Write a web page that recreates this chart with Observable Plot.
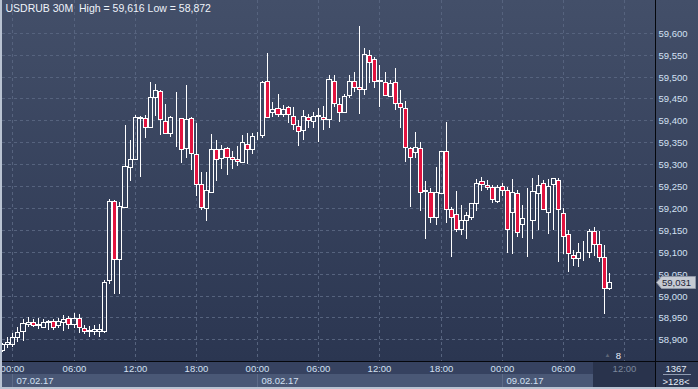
<!DOCTYPE html>
<html><head><meta charset="utf-8">
<script src="https://cdn.jsdelivr.net/npm/d3@7"></script>
<script src="https://cdn.jsdelivr.net/npm/@observablehq/plot@0.6"></script>
<style>
html,body{margin:0;padding:0;background:#2b3651;}
#wrap{position:relative;width:698px;height:389px;overflow:hidden;
 background:linear-gradient(to bottom,#434f69 0px,#2b3651 361px);
 font-family:"Liberation Sans",Arial,sans-serif;}
.bg{position:absolute;}
.fg{position:absolute;z-index:5;}
#wrap svg{position:absolute;left:0;top:0;z-index:2;overflow:visible;}
</style></head><body><div id="wrap">
<div class="bg" style="left:0;top:361px;width:698px;height:13px;background:#364260"></div>
<div class="bg" style="left:0;top:374px;width:698px;height:15px;background:#4a5876"></div>
<div class="bg" style="left:593px;top:362px;width:62px;height:27px;background:#29334c"></div>
<div class="bg" style="left:655px;top:362px;width:43px;height:27px;background:#2e3954"></div>
<div class="fg" style="left:655px;top:0;width:1px;height:389px;background:#05070c"></div>
<div class="fg" style="left:0;top:361px;width:698px;height:1px;background:#05070c"></div>
<div class="fg" style="left:0;top:0;width:2px;height:389px;background:#b9c3d2"></div>
<div class="fg" style="left:0;top:387px;width:698px;height:2px;background:#b9c3d2"></div>
</div>
<script>
// ---- data (USDRUB, 30-minute bars; bar index 0 = 07.02.17 00:00) ----
const firstIndex = -2;
const open = [58.875,58.889,58.889,58.905,58.919,58.935,58.940,58.933,58.928,58.939,
58.942,58.933,58.940,58.949,58.935,58.949,58.926,58.919,58.919,58.919,
58.920,59.035,59.215,59.084,59.203,59.293,59.311,59.406,59.405,59.385,
59.454,59.468,59.399,59.370,59.407,59.405,59.336,59.405,59.322,59.254,
59.199,59.237,59.334,59.313,59.336,59.317,59.311,59.305,59.347,59.334,
59.364,59.366,59.490,59.418,59.427,59.414,59.430,59.411,59.388,59.378,
59.408,59.398,59.411,59.407,59.402,59.490,59.437,59.418,59.458,59.490,
59.477,59.471,59.549,59.539,59.489,59.488,59.455,59.487,59.439,59.427,
59.336,59.327,59.336,59.240,59.236,59.179,59.235,59.330,59.197,59.186,
59.151,59.172,59.180,59.211,59.261,59.252,59.247,59.216,59.249,59.240,
59.190,59.233,59.163,59.174,59.172,59.233,59.258,59.191,59.254,59.264,
59.188,59.140,59.092,59.086,59.099,59.099,59.147,59.117,59.087,59.018];
const close = [58.889,58.893,58.905,58.917,58.937,58.939,58.933,58.935,58.940,58.942,
58.928,58.942,58.946,58.935,58.949,58.928,58.919,58.921,58.924,58.924,
59.032,59.216,59.083,59.204,59.296,59.311,59.407,59.408,59.385,59.453,
59.469,59.402,59.372,59.408,59.408,59.334,59.402,59.325,59.254,59.201,
59.241,59.334,59.311,59.334,59.317,59.311,59.306,59.350,59.334,59.364,
59.365,59.488,59.407,59.425,59.414,59.425,59.414,59.392,59.376,59.411,
59.401,59.411,59.412,59.402,59.494,59.439,59.420,59.456,59.490,59.475,
59.471,59.552,59.534,59.490,59.491,59.458,59.485,59.440,59.430,59.338,
59.316,59.338,59.237,59.238,59.180,59.236,59.330,59.197,59.180,59.151,
59.172,59.184,59.212,59.258,59.254,59.247,59.220,59.247,59.240,59.153,
59.236,59.146,59.176,59.175,59.239,59.252,59.197,59.250,59.268,59.197,
59.136,59.096,59.085,59.099,59.100,59.147,59.117,59.089,59.018,59.031];
const high = [58.892,58.905,58.914,58.928,58.946,58.951,58.946,58.949,58.946,58.944,
58.946,58.949,58.955,58.953,58.960,58.958,58.933,58.930,58.933,58.935,
59.035,59.220,59.218,59.214,59.389,59.355,59.412,59.410,59.412,59.488,
59.483,59.470,59.437,59.410,59.464,59.405,59.481,59.408,59.393,59.283,
59.283,59.369,59.355,59.344,59.340,59.330,59.341,59.366,59.372,59.370,
59.374,59.490,59.553,59.442,59.460,59.435,59.433,59.430,59.401,59.424,
59.414,59.420,59.427,59.433,59.503,59.503,59.450,59.460,59.503,59.511,
59.616,59.565,59.561,59.545,59.526,59.511,59.492,59.519,59.469,59.445,
59.340,59.374,59.351,59.262,59.245,59.294,59.330,59.397,59.203,59.239,
59.207,59.191,59.212,59.265,59.271,59.264,59.252,59.252,59.256,59.248,
59.266,59.241,59.207,59.246,59.269,59.275,59.264,59.266,59.268,59.268,
59.199,59.149,59.104,59.121,59.124,59.152,59.157,59.147,59.115,59.051];
const low = [58.872,58.880,58.882,58.894,58.896,58.928,58.928,58.923,58.926,58.921,
58.921,58.926,58.919,58.924,58.926,58.914,58.912,58.905,58.910,58.905,
58.914,59.026,59.003,59.003,59.201,59.262,59.309,59.270,59.359,59.385,
59.410,59.366,59.370,59.363,59.340,59.302,59.313,59.287,59.227,59.195,
59.171,59.237,59.262,59.289,59.275,59.288,59.296,59.305,59.300,59.323,
59.355,59.359,59.407,59.407,59.407,59.407,59.393,59.378,59.341,59.355,
59.382,59.382,59.351,59.378,59.382,59.431,59.397,59.416,59.450,59.465,
59.414,59.458,59.485,59.473,59.431,59.455,59.454,59.424,59.382,59.305,
59.201,59.313,59.194,59.129,59.165,59.161,59.233,59.165,59.087,59.146,
59.138,59.128,59.172,59.194,59.239,59.242,59.212,59.211,59.227,59.096,
59.094,59.134,59.132,59.089,59.129,59.149,59.195,59.140,59.150,59.077,
59.094,59.054,59.068,59.066,59.079,59.086,59.091,59.077,58.957,59.013];

const symbol = "USDRUB";
const period = "30M";
const yTicks = [58.90,58.95,59.00,59.05,59.10,59.15,59.20,59.25,59.30,59.35,59.40,59.45,59.50,59.55,59.60];
const timeTickIdx = [0,12,24,36,48,60,72,84,96,108,120];
const timeLabels = ["00:00","06:00","12:00","18:00","00:00","06:00","12:00","18:00","00:00","06:00","12:00"];
const dateIdx = [0,48,96];
const dateLabels = ["07.02.17","08.02.17","09.02.17"];
const barCount = "1367";
const scaleLabel = ">128<";
const marker = {idx: 118.8, label: "8"};

// ---- build ----
const bars = open.map((o, k) => ({i: firstIndex + k, o, c: close[k], h: high[k], l: low[k]}));
const up = bars.filter(d => d.c >= d.o);
const down = bars.filter(d => d.c < d.o);
const fmt = v => d3.format(".3f")(v).replace(".", ",");
const hi = d3.max(high), lo = d3.min(low);
const last = bars[bars.length - 1];
const title = `${symbol} ${period}  High = ${fmt(hi)} Low = ${fmt(lo)}`;

const txt = "#d3e0f3";
const grid = "#56637e";
const red = "#e2133f";
const crisp = {shapeRendering: "crispEdges"};

const chart = Plot.plot({
  width: 698, height: 389,
  marginLeft: 2, marginRight: 43, marginTop: 0, marginBottom: 28,
  style: {background: "transparent", fontFamily: "Liberation Sans, Arial, sans-serif", fontSize: "9.5px", overflow: "visible"},
  x: {type: "linear", domain: [-2.02, 126.02], axis: null, round: true},
  y: {domain: [58.8505, 59.6747], axis: null, round: true},
  marks: [
    Plot.ruleY(yTicks, {y: d => d, stroke: grid, strokeDasharray: "3,3", strokeWidth: 1, ...crisp}),
    Plot.ruleX(timeTickIdx, {x: d => d, stroke: grid, strokeDasharray: "3,3", strokeWidth: 1, ...crisp}),
    // wicks (upper and lower part, so hollow bodies stay hollow)
    Plot.ruleX(bars, {x: "i", y1: "h", y2: d => Math.max(d.o, d.c), stroke: "#ffffff", strokeWidth: 1, clip: true, ...crisp}),
    Plot.ruleX(bars, {x: "i", y1: "l", y2: d => Math.min(d.o, d.c), stroke: "#ffffff", strokeWidth: 1, clip: true, ...crisp}),
    Plot.rect(up, {x1: d => d.i - 0.4, x2: d => d.i + 0.4, y1: "o", y2: "c", fill: "none", stroke: "#ffffff", strokeWidth: 1, clip: true, ...crisp}),
    Plot.rect(down, {x1: d => d.i - 0.4, x2: d => d.i + 0.4, y1: "o", y2: "c", fill: red, stroke: "#ffffff", strokeWidth: 1, clip: true, ...crisp}),
    // y labels on the right
    Plot.text(yTicks, {y: d => d, text: d => fmt(d), frameAnchor: "right", dx: 3, textAnchor: "start", lineAnchor: "middle", fill: txt}),
    // time labels
    Plot.text(timeLabels.slice(0, 10), {x: (d, k) => timeTickIdx[k], text: d => d, frameAnchor: "bottom", dy: 7.5, lineAnchor: "middle", fill: txt}),
    Plot.text(timeLabels.slice(10), {x: (d, k) => timeTickIdx[10 + k], text: d => d, frameAnchor: "bottom", dy: 7.5, lineAnchor: "middle", fill: "#7b879c"}),
    // date labels
    Plot.text(dateLabels, {x: (d, k) => dateIdx[k], text: d => d, frameAnchor: "bottom", dy: 19.5, dx: 4, textAnchor: "start", lineAnchor: "middle", fill: txt}),
    // marker
    Plot.text([marker], {x: "idx", text: "label", frameAnchor: "bottom", dy: -6, lineAnchor: "middle", fill: "#e6edf7"}),
    Plot.text([marker], {x: d => d.idx - 2.2, text: () => "\u25B2", frameAnchor: "bottom", dy: -6, lineAnchor: "middle", fill: "#5d6677", fontSize: 6}),
    // title
    Plot.text([title], {text: d => d, frameAnchor: "top-left", dx: 3, dy: 8, lineAnchor: "middle", textAnchor: "start", fill: "#eef3fa", fontSize: 10.5})
  ]
});
document.getElementById("wrap").appendChild(chart);

// extra decorations using the chart's own scales
const ns = "http://www.w3.org/2000/svg";
const xs = chart.scale("x"), ys = chart.scale("y");
function el(name, attrs, parent) {
  const e = document.createElementNS(ns, name);
  for (const k in attrs) e.setAttribute(k, attrs[k]);
  parent.appendChild(e);
  return e;
}
const g = el("g", {"font-family": "Liberation Sans, Arial, sans-serif", "font-size": "9.5px"}, chart);
// date separators
dateIdx.forEach(ix => {
  const x = Math.round(xs.apply(ix)) + 0.5;
  el("line", {x1: x, x2: x, y1: 374, y2: 387, stroke: "#5d6b88", "shape-rendering": "crispEdges"}, g);
});
// current price tag (drawn over the right axis labels, as in the terminal)
const py = Math.round(ys.apply(last.c)) + 0.5;
el("path", {d: `M656.5,${py} L661.5,${py - 6} L695.5,${py - 6} L695.5,${py + 6} L661.5,${py + 6} Z`, fill: "#c5cad3", stroke: "#8e96a6"}, g);
const t = el("text", {x: 662, y: py, "dominant-baseline": "central", "text-anchor": "start", fill: "#1c2437"}, g);
t.textContent = fmt(last.c);
// corner box
const t1 = el("text", {x: 676, y: 368, "text-anchor": "middle", "dominant-baseline": "central", fill: "#e6edf7"}, g);
t1.textContent = barCount;
el("line", {x1: 663, x2: 691, y1: 374.5, y2: 374.5, stroke: "#8f9ab0"}, g);
const t2 = el("text", {x: 676, y: 381, "text-anchor": "middle", "dominant-baseline": "central", fill: "#e6edf7"}, g);
t2.textContent = scaleLabel;
</script>
</body></html>
